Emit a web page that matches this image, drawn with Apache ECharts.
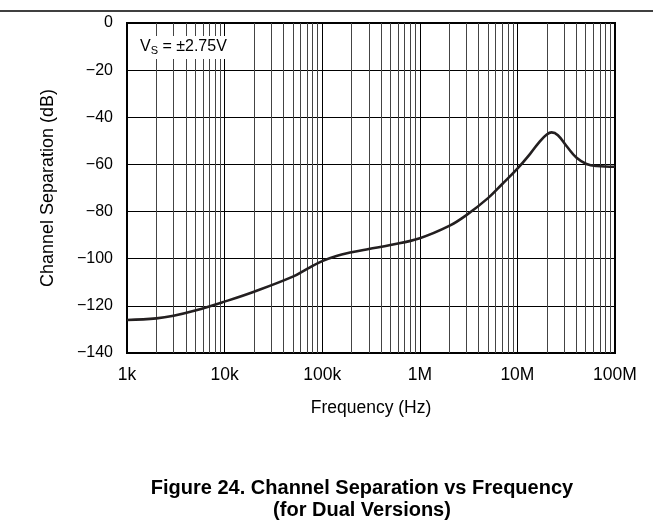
<!DOCTYPE html>
<html>
<head>
<meta charset="utf-8">
<script src="https://cdn.jsdelivr.net/npm/echarts@6/dist/echarts.min.js"></script>
<style>html,body{margin:0;padding:0;background:#fff;}#c{width:653px;height:529px;}</style>
</head>
<body>
<div id="c"></div>
<script>
// Frequency (Hz) and channel separation (dB)
const freqs = [1e3, 2e3, 3e3, 5e3, 1e4, 2e4, 5e4, 7e4, 1e5, 1.4e5, 2e5, 3e5, 5e5, 1e6, 2e6, 3e6, 5e6, 7e6, 1e7, 1.35e7, 1.7e7, 2e7, 2.24e7, 2.6e7, 3.2e7, 4.04e7, 5.1e7, 6.5e7, 1e8];
const sepDb = [-126, -125.3, -124.2, -122, -118.2, -114, -107.6, -104.3, -101, -98.8, -97.3, -95.9, -94.2, -91.3, -86.1, -81.5, -74.3, -68.3, -61.8, -55.5, -50.2, -47.3, -46.4, -47.6, -52.3, -57.2, -59.8, -60.7, -61];
const xTickValues = [1e3, 1e4, 1e5, 1e6, 1e7, 1e8];
const xTickLabels = ['1k', '10k', '100k', '1M', '10M', '100M'];
const minorGridFreqs = [];
[1e3, 1e4, 1e5, 1e6, 1e7].forEach(d => { for (let m = 2; m <= 9; m++) minorGridFreqs.push(m * d); });

const FONT = "'Liberation Sans', Arial, Helvetica, sans-serif";
const chart = echarts.init(document.getElementById('c'), null, {renderer: 'canvas'});
const data = freqs.map((f, i) => [f, sepDb[i]]);

chart.setOption({
  animation: false,
  backgroundColor: '#fff',
  grid: {left: 127, right: 38, top: 23, bottom: 176, show: true, borderColor: '#000', borderWidth: 2, backgroundColor: 'transparent'},
  xAxis: {
    type: 'log', logBase: 10, min: 1e3, max: 1e8,
    name: 'Frequency (Hz)', nameLocation: 'middle', nameGap: 46,
    nameTextStyle: {fontFamily: FONT, fontSize: 17.5, color: '#000'},
    axisLine: {show: false}, axisTick: {show: false},
    axisLabel: {fontFamily: FONT, fontSize: 17.5, color: '#000', margin: 13,
      formatter: v => { const i = xTickValues.findIndex(t => Math.abs(Math.log10(t) - Math.log10(v)) < 1e-6); return i >= 0 ? xTickLabels[i] : ''; }},
    splitLine: {show: true, lineStyle: {color: '#000', width: 1}}
  },
  yAxis: {
    type: 'value', min: -140, max: 0, interval: 20,
    name: 'Channel Separation (dB)', nameLocation: 'middle', nameGap: 70,
    nameTextStyle: {fontFamily: FONT, fontSize: 18, color: '#000'},
    axisLine: {show: false}, axisTick: {show: false},
    axisLabel: {fontFamily: FONT, fontSize: 16, color: '#000', margin: 14,
      formatter: v => String(v).replace('-', '\u2212')},
    splitLine: {show: true, lineStyle: {color: '#000', width: 1}}
  },
  series: [{
    type: 'line', data: data, smooth: 0.4, showSymbol: false, symbol: 'none',
    lineStyle: {color: '#231f20', width: 2.6}, z: 5,
    markLine: {
      silent: true, symbol: ['none', 'none'], label: {show: false},
      lineStyle: {color: '#444', width: 1, type: 'solid'},
      data: minorGridFreqs.map(f => ({xAxis: f})), z: 1
    }
  }],
  graphic: [
    {type: 'line', shape: {x1: 0, y1: 11, x2: 653, y2: 11}, style: {stroke: '#000', lineWidth: 1.5}},
    {type: 'rect', shape: {x: 129, y: 36, width: 104, height: 23}, style: {fill: '#fff'}, z: 100},
    {type: 'text', x: 140, y: 37, z: 101, style: {
      text: '{v|V}{s|S}{v| = ±2.75V}', font: '16px ' + FONT,
      rich: {v: {fontFamily: FONT, fontSize: 16, fill: '#000'}, s: {fontFamily: FONT, fontSize: 11, fill: '#000', padding: [8, 0, 0, 0]}}}},
    {type: 'text', x: 362, y: 478, style: {text: 'Figure 24. Channel Separation vs Frequency', font: 'bold 20px ' + FONT, fill: '#000', align: 'center'}},
    {type: 'text', x: 362, y: 500, style: {text: '(for Dual Versions)', font: 'bold 20px ' + FONT, fill: '#000', align: 'center'}}
  ]
});
</script>
</body>
</html>
